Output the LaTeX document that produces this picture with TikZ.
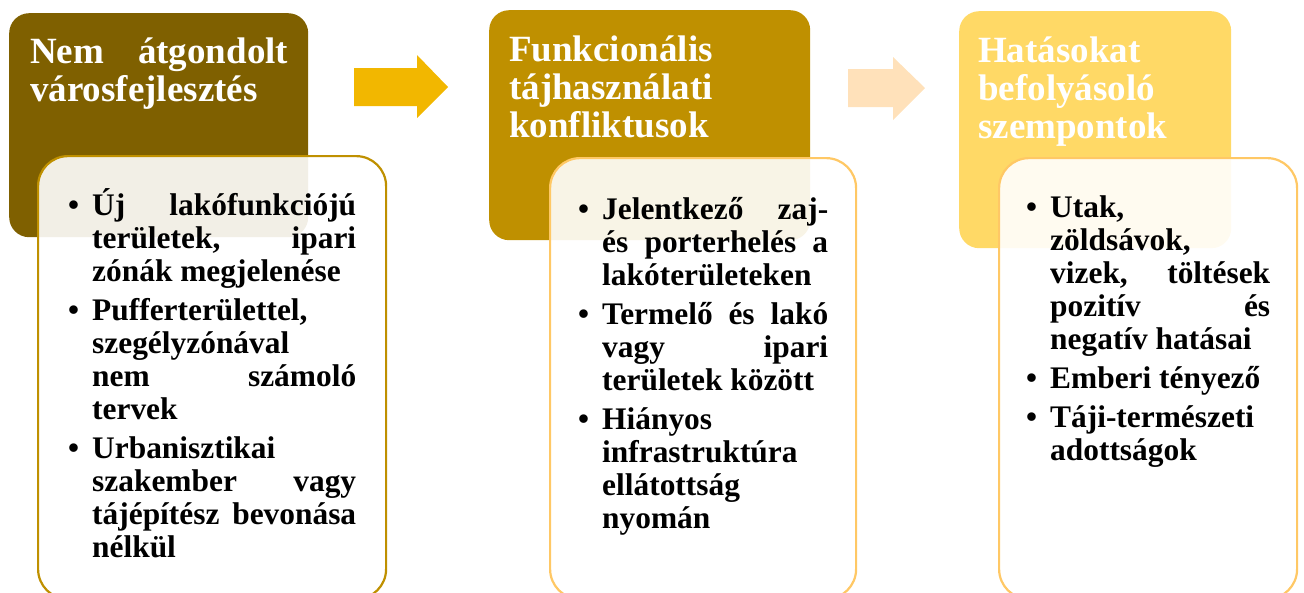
\documentclass[tikz,border=0pt]{standalone}
\usepackage{fontspec}
\setmainfont{Liberation Serif}
\definecolor{headA}{HTML}{7F6000}
\definecolor{headB}{HTML}{BF9000}
\definecolor{headC}{HTML}{FFD966}
\definecolor{arrowA}{HTML}{F2B700}
\definecolor{arrowB}{HTML}{FFE1BA}
\definecolor{lineB}{HTML}{FFC865}
\hyphenpenalty=10000
\exhyphenpenalty=10000
\newcommand\pont{\par\noindent\llap{\textbullet\hskip 13pt}}

\begin{document}
\begin{tikzpicture}[x=1pt,y=-1pt,
  head/.style={anchor=north west,inner sep=0pt,rounded corners=20pt},
  card/.style={anchor=north west,inner sep=0pt,line width=2.2pt,fill=white,fill opacity=0.9,rounded corners=30pt},
  htext/.style={anchor=north west,inner sep=0pt,text=white,align=justify,font=\fontsize{37}{38}\selectfont\bfseries},
  btext/.style={anchor=north west,inner sep=0pt,align=justify,font=\fontsize{31.4}{33}\selectfont\bfseries\setlength{\parskip}{6pt}}]
      \useasboundingbox (0,0) rectangle (1304,592);
      \node[head,fill=headA,minimum width=299pt,minimum height=224pt] (head1) at (9,13) {};
      \node[head,fill=headB,minimum width=321pt,minimum height=230pt] (head2) at (489,10) {};
      \node[head,fill=headC,minimum width=272pt,minimum height=237pt] (head3) at (959,11) {};
      \fill[arrowA] (354,68) -- (417,68) -- (417,55) -- (448,87) -- (417,118) -- (417,106) -- (354,106) -- cycle;
      \fill[arrowB] (848,69) -- (893,69) -- (893,57) -- (925,88) -- (893,120) -- (893,107) -- (848,107) -- cycle;
      \node[card,draw=headB,minimum width=348pt,minimum height=443pt] (card1) at (37,155) {};
      \node[card,draw=lineB,minimum width=306pt,minimum height=441pt] (card2) at (549,157) {};
      \node[card,draw=lineB,minimum width=298pt,minimum height=441pt] (card3) at (998,157) {};
      \node[htext,text width=258pt] (title1) at (30,31) {\noindent\rule{0pt}{32pt}Nem átgondolt\linebreak városfejlesztés};
      \node[htext,text width=280pt] (title2) at (509,29) {\noindent\rule{0pt}{32pt}Funkcionális\linebreak tájhasználati\linebreak konfliktusok};
      \node[htext,text width=240pt] (title3) at (978,30) {\noindent\rule{0pt}{32pt}Hatásokat\linebreak befolyásoló\linebreak szempontok};
      \node[btext,text width=264pt] (list1) at (92,176) {\pont\rule{0pt}{32pt}Új lakófunkciójú\linebreak területek, ipari\linebreak zónák megjelenése
      \pont Pufferterülettel,\linebreak szegélyzónával\linebreak nem számoló\linebreak tervek
      \pont Urbanisztikai\linebreak szakember vagy\linebreak tájépítész bevonása\linebreak nélkül};
      \node[btext,text width=226pt] (list2) at (602,180) {\pont\rule{0pt}{32pt}Jelentkező zaj-\linebreak és porterhelés a\linebreak lakóterületeken
      \pont Termelő és lakó\linebreak vagy ipari\linebreak területek között
      \pont Hiányos\linebreak infrastruktúra\linebreak ellátottság\linebreak nyomán};
      \node[btext,text width=220pt] (list3) at (1050,178) {\pont\rule{0pt}{32pt}Utak,\linebreak zöldsávok,\linebreak vizek, töltések\linebreak pozitív és\linebreak negatív hatásai
      \pont Emberi tényező
      \pont Táji-természeti\linebreak adottságok};
    \end{tikzpicture}
\end{document}
